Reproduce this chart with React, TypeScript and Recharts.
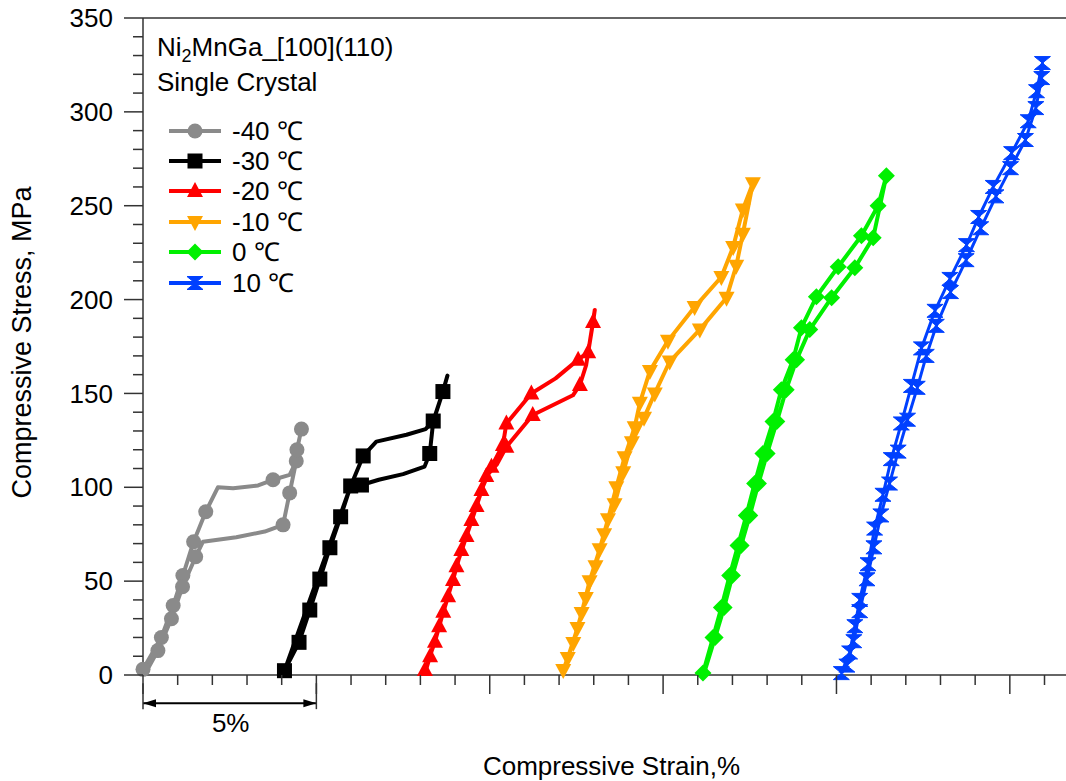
import { LineChart, Line, XAxis, YAxis, ReferenceLine, Legend } from "recharts";

// [strain %, stress MPa] ; a third value 0 = vertex without marker
const minus40 = [
  [0, 3], [0.53, 20], [0.87, 37], [1.15, 53], [1.46, 71], [1.81, 87],
  [2.16, 100, 0], [2.6, 99.5, 0], [3.32, 101, 0], [3.75, 104], [4.23, 106.6, 0],
  [4.42, 114], [4.44, 120], [4.57, 131],
  [4.44, 120, 0], [4.42, 114, 0], [4.23, 97], [4.04, 80], [3.51, 76.4, 0], [2.69, 73.4, 0],
  [1.73, 71, 0], [1.52, 63], [1.14, 47], [0.82, 30], [0.43, 13], [0.1, 2, 0],
];
const minus30 = [
  [4.08, 2.3], [4.5, 17.4], [4.81, 34.6], [5.1, 51.1], [5.39, 67.8], [5.7, 84.3], [5.99, 100.7],
  [6.35, 116.7], [6.73, 124.3, 0], [7.6, 128, 0], [8.15, 131, 0], [8.37, 135.3], [8.65, 151],
  [8.78, 159.5, 0],
  [8.65, 151, 0], [8.37, 135, 0], [8.27, 118], [8.12, 111, 0], [7.5, 107, 0], [6.8, 104, 0],
  [6.3, 101.2], [5.99, 100.7, 0], [4.08, 2.3, 0],
];
const minus20 = [
  [8.13, 2.7], [8.42, 17.7], [8.66, 33.7], [8.94, 50.6], [9.18, 66.6], [9.47, 82.6], [9.76, 98.6],
  [10.05, 111], [10.38, 122.5], [10.48, 134], [11.2, 150], [11.9, 158, 0], [12.55, 168],
  [12.84, 172], [12.98, 188], [13.03, 194.5, 0],
  [12.95, 185, 0], [12.78, 165, 0], [12.6, 154.5], [12.4, 149, 0], [11.24, 138.5], [10.48, 121.6],
  [10.2, 112, 0], [9.9, 106], [9.62, 90], [9.33, 74], [9.04, 58], [8.8, 42], [8.54, 26],
  [8.28, 10], [8.15, 2, 0],
];
const minus10 = [
  [12.12, 2.7], [12.41, 17], [12.65, 33], [12.88, 50], [13.17, 67], [13.41, 83], [13.65, 100],
  [13.89, 116], [14.18, 132], [14.33, 145], [14.62, 162], [15.14, 178], [15.91, 196], [16.68, 212],
  [17.02, 228], [17.3, 248], [17.59, 262],
  [17.3, 235], [17.11, 218], [16.83, 201], [16.06, 184], [15.19, 167], [14.76, 150], [14.45, 137],
  [14.1, 124], [13.85, 108], [13.6, 91], [13.3, 75], [13.05, 58], [12.77, 41], [12.53, 25],
  [12.25, 9], [12.12, 2.7, 0],
];
const zero = [
  [16.15, 1], [16.44, 20], [16.68, 36], [16.92, 53], [17.16, 69], [17.4, 85], [17.64, 102],
  [17.88, 118], [18.17, 135], [18.41, 152], [18.75, 168], [18.99, 185], [19.42, 201.5],
  [20.05, 217.5], [20.72, 234], [21.2, 250], [21.44, 266],
  [21.06, 233], [20.53, 217], [19.86, 201], [19.23, 184], [18.85, 168], [18.55, 152], [18.28, 135],
  [18.0, 118], [17.75, 102], [17.5, 85], [17.25, 69], [17.0, 53], [16.76, 36], [16.5, 20],
  [16.2, 2, 0],
];
const plus10 = [
  [20.14, 1], [20.38, 12], [20.53, 26], [20.67, 40], [20.91, 59], [21.1, 78], [21.34, 96],
  [21.58, 115], [21.87, 134], [22.16, 154], [22.45, 174], [22.84, 194], [23.27, 211], [23.75, 229],
  [24.1, 244], [24.52, 260], [25.05, 278], [25.53, 295], [25.77, 311], [25.94, 326],
  [25.92, 318], [25.75, 302], [25.45, 285], [25.02, 270], [24.6, 255], [24.16, 238], [23.74, 221],
  [23.29, 204], [22.88, 186], [22.59, 170], [22.33, 153], [22.05, 136], [21.78, 119], [21.53, 102],
  [21.28, 85], [21.08, 68], [20.88, 51], [20.67, 34], [20.5, 18], [20.3, 5], [20.15, 1, 0],
];

const seriesNames = ["-40 ℃", "-30 ℃", "-20 ℃", "-10 ℃", "0 ℃", "10 ℃"];
const seriesData = [minus40, minus30, minus20, minus10, zero, plus10];
const colors = ["#8a8a8a", "#000000", "#ff0000", "#ffa500", "#00f000", "#0040ff"];
const shapes = ["circle", "square", "triangle", "triangleDown", "diamond", "hourglass"];

const xTicks = Array.from({ length: 27 }, (_, i) => i);
const yTicks = Array.from({ length: 36 }, (_, i) => i * 10);

const font = '"Liberation Sans", Arial, sans-serif';
const axisColor = "#333";

function marker(shape: string, cx: number, cy: number, color: string) {
  switch (shape) {
    case "circle":
      return <circle cx={cx} cy={cy} r={7.5} fill={color} />;
    case "square":
      return <rect x={cx - 7.5} y={cy - 7.5} width={15} height={15} fill={color} />;
    case "triangle":
      return <path d={`M${cx},${cy - 9} L${cx + 8},${cy + 6} L${cx - 8},${cy + 6} Z`} fill={color} />;
    case "triangleDown":
      return <path d={`M${cx},${cy + 9} L${cx + 8},${cy - 6} L${cx - 8},${cy - 6} Z`} fill={color} />;
    case "diamond":
      return <path d={`M${cx},${cy - 8.5} L${cx + 8.5},${cy} L${cx},${cy + 8.5} L${cx - 8.5},${cy} Z`} fill={color} />;
    default:
      return (
        <path
          d={`M${cx - 8},${cy - 6.5} L${cx + 8},${cy - 6.5} L${cx},${cy} L${cx + 8},${cy + 6.5} L${cx - 8},${cy + 6.5} L${cx},${cy} Z`}
          fill={color}
          stroke={color}
          strokeWidth={1}
          strokeLinejoin="round"
        />
      );
  }
}

function XTick(props: any) {
  const { x, y, payload } = props;
  const major = payload.value % 5 === 0;
  return <line x1={x} x2={x} y1={y} y2={y + (major ? 19 : 10)} stroke={axisColor} strokeWidth={1.5} />;
}

function YTick(props: any) {
  const { x, y, payload } = props;
  const major = payload.value % 50 === 0;
  return (
    <g>
      <line x1={x - (major ? 19 : 10)} x2={x} y1={y} y2={y} stroke={axisColor} strokeWidth={1.5} />
      {major && (
        <text x={x - 30} y={y} dy="0.35em" textAnchor="end" fontSize={26} fill="#000">
          {payload.value}
        </text>
      )}
    </g>
  );
}

function XTitle(props: any) {
  const vb = props.viewBox ?? { x: 143, y: 675, width: 923, height: 106 };
  return (
    <text x={vb.x + vb.width / 2 + 7} y={vb.y + 91} dominantBaseline="central" textAnchor="middle" fontSize={26} fill="#000">
      Compressive Strain,%
    </text>
  );
}

function YTitle(props: any) {
  const vb = props.viewBox ?? { x: 0, y: 18, width: 143, height: 657 };
  const cx = vb.x + 22;
  const cy = vb.y + vb.height / 2 - 4;
  return (
    <text x={cx} y={cy} transform={`rotate(-90 ${cx} ${cy})`} dominantBaseline="central" textAnchor="middle" fontSize={27} fill="#000">
      Compressive Stress, MPa
    </text>
  );
}

function ScaleBar(props: any) {
  const { x1, y1, x2 } = props;
  return (
    <g>
      <line x1={x1} x2={x2} y1={y1} y2={y1} stroke="#000" strokeWidth={2} />
      <path d={`M${x1},${y1} L${x1 + 13},${y1 - 4} L${x1 + 13},${y1 + 4} Z`} fill="#000" />
      <path d={`M${x2},${y1} L${x2 - 13},${y1 - 4} L${x2 - 13},${y1 + 4} Z`} fill="#000" />
      <line x1={x1} x2={x1} y1={y1 - 20} y2={y1 + 6} stroke={axisColor} strokeWidth={1.5} />
      <line x1={x2} x2={x2} y1={y1 - 20} y2={y1 + 6} stroke={axisColor} strokeWidth={1.5} />
      <text x={(x1 + x2) / 2 + 1} y={y1 + 20} dominantBaseline="central" textAnchor="middle" fontSize={26} fill="#000">
        5%
      </text>
    </g>
  );
}

function LegendBox() {
  return (
    <div style={{ fontFamily: font, fontSize: 26, color: "#000", lineHeight: "35px", whiteSpace: "nowrap" }}>
      <div>
        Ni<sub style={{ fontSize: 18, lineHeight: 0 }}>2</sub>MnGa_[100](110)
      </div>
      <div>Single Crystal</div>
      <div style={{ marginTop: 16 }}>
        {seriesNames.map((name, i) => (
          <div key={name} style={{ display: "flex", alignItems: "center", height: 30.4, lineHeight: "30px" }}>
            <svg width={56} height={24} style={{ marginLeft: 10 }}>
              <line x1={2} x2={54} y1={12} y2={12} stroke={colors[i]} strokeWidth={4} />
              {marker(shapes[i], 28, 12, colors[i])}
            </svg>
            <span style={{ marginLeft: 9 }}>{name}</span>
          </div>
        ))}
      </div>
    </div>
  );
}

export default function App() {
  return (
    <div style={{ position: "absolute", left: 0, top: 0, width: 1066, height: 781, background: "#fff", fontFamily: font }}>
      <LineChart width={1066} height={781} margin={{ top: 18, right: 0, bottom: 0, left: 0 }}>
        <XAxis
          type="number"
          dataKey="x"
          domain={[0, 26.62]}
          ticks={xTicks}
          interval={0}
          tickSize={0}
          tickMargin={0}
          tickLine={false}
          tick={XTick}
          axisLine={{ stroke: axisColor, strokeWidth: 1.5 }}
          height={106}
          label={XTitle}
        />
        <YAxis
          type="number"
          domain={[0, 350]}
          ticks={yTicks}
          interval={0}
          tickSize={0}
          tickMargin={0}
          tickLine={false}
          tick={YTick}
          axisLine={{ stroke: axisColor, strokeWidth: 1.5 }}
          width={143}
          label={YTitle}
        />
        <ReferenceLine y={350} stroke={axisColor} strokeWidth={1.5} ifOverflow="visible" />
        <ReferenceLine
          segment={[{ x: 0, y: -15 }, { x: 5, y: -15 }]}
          ifOverflow="visible"
          shape={ScaleBar}
        />
        {seriesData.map((pts, i) => (
          <Line
            key={seriesNames[i]}
            name={seriesNames[i]}
            data={pts.map(([x, y, m]) => ({ x, y, m: m !== 0 }))}
            dataKey="y"
            type="linear"
            stroke={colors[i]}
            strokeWidth={i === 5 ? 3 : 4}
            strokeLinejoin="round"
            activeDot={false}
            isAnimationActive={false}
            dot={(p: any) => (
              <g key={`${i}-${p.index}`}>{p.payload.m ? marker(shapes[i], p.cx, p.cy, colors[i]) : null}</g>
            )}
          />
        ))}
        <Legend
          layout="vertical"
          align="center"
          verticalAlign="middle"
          wrapperStyle={{ left: 157, top: 29.5 }}
          content={LegendBox}
        />
      </LineChart>
    </div>
  );
}
